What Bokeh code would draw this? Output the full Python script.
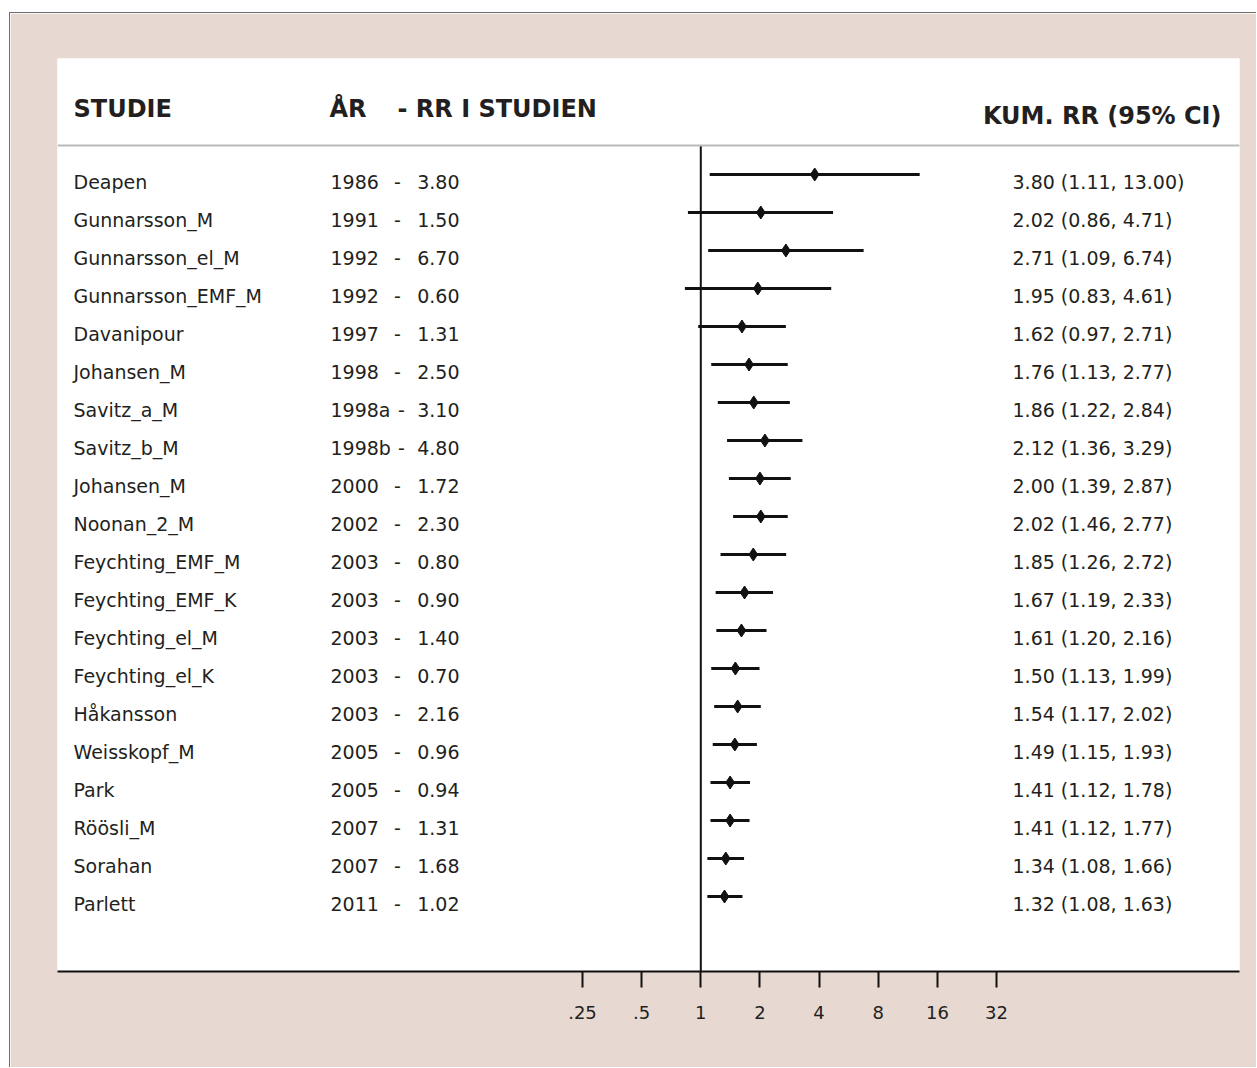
from bokeh.plotting import figure
from bokeh.models import Range1d, FixedTicker, Span, LinearScale
from bokeh.core.properties import value
from bokeh.embed import file_html
from bokeh.resources import INLINE

# ---------------- data ----------------
studies = ["Deapen", "Gunnarsson_M", "Gunnarsson_el_M", "Gunnarsson_EMF_M", "Davanipour",
           "Johansen_M", "Savitz_a_M", "Savitz_b_M", "Johansen_M", "Noonan_2_M",
           "Feychting_EMF_M", "Feychting_EMF_K", "Feychting_el_M", "Feychting_el_K", "Håkansson",
           "Weisskopf_M", "Park", "Röösli_M", "Sorahan", "Parlett"]
years = ["1986", "1991", "1992", "1992", "1997", "1998", "1998a", "1998b", "2000", "2002",
         "2003", "2003", "2003", "2003", "2003", "2005", "2005", "2007", "2007", "2011"]
rr_study = [3.80, 1.50, 6.70, 0.60, 1.31, 2.50, 3.10, 4.80, 1.72, 2.30,
            0.80, 0.90, 1.40, 0.70, 2.16, 0.96, 0.94, 1.31, 1.68, 1.02]
cum_rr = [3.80, 2.02, 2.71, 1.95, 1.62, 1.76, 1.86, 2.12, 2.00, 2.02,
          1.85, 1.67, 1.61, 1.50, 1.54, 1.49, 1.41, 1.41, 1.34, 1.32]
ci_low = [1.11, 0.86, 1.09, 0.83, 0.97, 1.13, 1.22, 1.36, 1.39, 1.46,
          1.26, 1.19, 1.20, 1.13, 1.17, 1.15, 1.12, 1.12, 1.08, 1.08]
ci_high = [13.00, 4.71, 6.74, 4.61, 2.71, 2.77, 2.84, 3.29, 2.87, 2.77,
           2.72, 2.33, 2.16, 1.99, 2.02, 1.93, 1.78, 1.77, 1.66, 1.63]
tick_values = [0.25, 0.5, 1, 2, 4, 8, 16, 32]
tick_labels = [".25", ".5", "1", "2", "4", "8", "16", "32"]
header_study = "STUDIE"
header_year = "ÅR"
header_rr = "- RR I STUDIEN"
header_cum = "KUM. RR (95% CI)"

# ---------------- layout / style ----------------
PINK = "#e8d8d2"
INK = "#231f20"
MARK = "#111111"
FONT = "DejaVu Sans"

FRAME_W = 1182
FRAME_H = 913
PX_PER_DOUBLING = 59.15
X1_PX = 700.3 - 57          # px from frame left where RR = 1
ROW1_PX = 174 - 58          # px from frame top of first row marks
ROW_STEP = 38

x_start = 2 ** (-X1_PX / PX_PER_DOUBLING)
x_end = 2 ** ((FRAME_W - X1_PX) / PX_PER_DOUBLING)
y_top = 1 - ROW1_PX / ROW_STEP
y_bottom = 1 + (FRAME_H - ROW1_PX) / ROW_STEP

rows = list(range(1, len(studies) + 1))
sep_y = 1 + (145 - 174) / ROW_STEP
head_y = 1 + (108 - 174) / ROW_STEP
head_cum_y = 1 + (115 - 174) / ROW_STEP

p = figure(width=1247, height=1055, x_axis_type="log",
           x_range=Range1d(x_start, x_end), y_range=Range1d(y_bottom, y_top),
           output_backend="svg", toolbar_location=None,
           min_border_left=47, min_border_right=18, min_border_top=45, min_border_bottom=97,
           background_fill_color="white", border_fill_color=PINK,
           outline_line_color=None, y_axis_location=None,
           styles={"margin-top": "12px", "margin-left": "9px",
                   "border-top": "1px solid #6f6f6f", "border-left": "1px solid #6f6f6f"})
p.extra_x_ranges = {"layout": Range1d(0, FRAME_W)}
p.extra_x_scales = {"layout": LinearScale()}
p.grid.visible = False

ax = p.xaxis[0]
ax.ticker = FixedTicker(ticks=tick_values)
ax.major_label_overrides = {v: l for v, l in zip(tick_values, tick_labels)}
ax.axis_line_color = "#111111"
ax.axis_line_width = 2
ax.major_tick_line_color = "#111111"
ax.major_tick_line_width = 2
ax.major_tick_out = 16
ax.major_tick_in = 0
ax.minor_tick_line_color = None
ax.major_label_text_font = FONT
ax.major_label_text_font_size = "18px"
ax.major_label_text_color = INK
ax.major_label_standoff = 18

# separator under header
p.add_layout(Span(location=sep_y, dimension="width", line_color="#b7bbbb", line_width=2))

# reference line at RR = 1
p.segment(x0=[1], x1=[1], y0=[sep_y], y1=[y_bottom], line_color=MARK, line_width=2)

# cumulative CIs and point estimates
p.segment(x0=ci_low, x1=ci_high, y0=rows, y1=rows, line_color=MARK, line_width=3)
p.scatter(x=cum_rr, y=rows, marker="diamond", size=13, color=MARK)

# headers
hdr = dict(x_range_name="layout", text_font=value(FONT), text_font_style="bold",
           text_font_size="24px", text_color=INK, text_baseline="middle")
p.text(x=[73 - 57], y=[head_y], text=[header_study], text_align="left", **hdr)
p.text(x=[329 - 57], y=[head_y], text=[header_year], text_align="left", **hdr)
p.text(x=[397 - 57], y=[head_y], text=[header_rr], text_align="left", **hdr)
p.text(x=[1221 - 57], y=[head_cum_y], text=[header_cum], text_align="right", **hdr)

# row texts
txt = dict(x_range_name="layout", text_font=value(FONT), text_font_size="19px",
           text_color=INK, text_baseline="middle", y_offset=7)
n = len(studies)
p.text(x=[73 - 57] * n, y=rows, text=studies, text_align="left", **txt)
p.text(x=[330 - 57] * n, y=rows, text=years, text_align="left", **txt)
dash_x = [(397 if len(y) == 4 else 401) - 57 for y in years]
p.text(x=dash_x, y=rows, text=["-"] * n, text_align="center", **txt)
p.text(x=[459 - 57] * n, y=rows, text=[f"{v:.2f}" for v in rr_study], text_align="right", **txt)
p.text(x=[1012 - 57] * n, y=rows,
       text=[f"{c:.2f} ({l:.2f}, {h:.2f})" for c, l, h in zip(cum_rr, ci_low, ci_high)],
       text_align="left", **txt)

open("out.html", "w").write(file_html(p, INLINE))
